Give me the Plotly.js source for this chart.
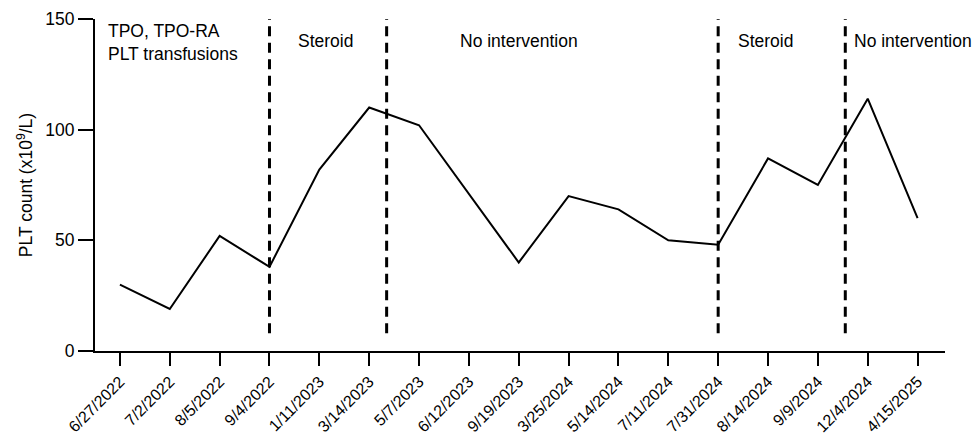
<!DOCTYPE html>
<html>
<head>
<meta charset="utf-8">
<script src="https://cdn.plot.ly/plotly-3.0.1.min.js"></script>
<style>html,body{margin:0;padding:0;background:#fff;}#chart{width:973px;height:440px;}</style>
</head>
<body>
<div id="chart"></div>
<script>
const dates = ["6/27/2022","7/2/2022","8/5/2022","9/4/2022","1/11/2023","3/14/2023","5/7/2023","6/12/2023","9/19/2023","3/25/2024","5/14/2024","7/11/2024","7/31/2024","8/14/2024","9/9/2024","12/4/2024","4/15/2025"];
const pltCount = [30,19,52,38,82,110,102,71,40,70,64,50,48,87,75,114,60];
const phaseBoundaries = [3, 5.35, 12, 14.55];
const phaseLabels = ["TPO, TPO-RA<br>PLT transfusions","Steroid","No intervention","Steroid","No intervention"];
const phaseLabelX = [-0.27, 4.12, 8.0, 12.95, 14.68];

const font = "Liberation Sans, Arial, sans-serif";
const shapes = phaseBoundaries.map(x => ({
  type: "line", xref: "x", yref: "y", x0: x, x1: x, y0: 8, y1: 150,
  line: {color: "#000", width: 3, dash: "10px,6.5px"}
}));
const annotations = phaseLabels.map((t, i) => ({
  x: phaseLabelX[i], y: i === 0 ? 150 : 145.5, xref: "x", yref: "y",
  text: t, showarrow: false, xanchor: i === 0 || i === 4 ? "left" : "center", yanchor: "top",
  align: "left", font: {family: font, size: 17.5, color: "#000"}
}));

Plotly.newPlot("chart", [{
  x: dates, y: pltCount, type: "scatter", mode: "lines",
  line: {color: "#000", width: 2}, cliponaxis: false, hoverinfo: "skip"
}], {
  width: 973, height: 440,
  margin: {l: 95, r: 28, t: 19, b: 89},
  paper_bgcolor: "#fff", plot_bgcolor: "#fff",
  showlegend: false,
  font: {family: font, color: "#000"},
  xaxis: {
    type: "category", range: [-0.5, 16.55], showgrid: false, zeroline: false,
    showline: true, linecolor: "#000", linewidth: 2,
    ticks: "outside", ticklen: 13, tickwidth: 2, tickcolor: "#000",
    ticklabelstandoff: 0,
    tickangle: -45, tickfont: {family: font, size: 16, color: "#000"}
  },
  yaxis: {
    range: [0, 150], tickvals: [0, 50, 100, 150], showgrid: false, zeroline: false,
    showline: true, linecolor: "#000", linewidth: 2,
    ticks: "outside", ticklen: 15, tickwidth: 2, tickcolor: "#000",
    tickfont: {family: font, size: 17.5, color: "#000"},
    title: {text: "PLT count (x10<sup>9</sup>/L)", font: {family: font, size: 17.5, color: "#000"}, standoff: 8}
  },
  shapes: shapes,
  annotations: annotations
}, {staticPlot: true});
</script>
</body>
</html>
